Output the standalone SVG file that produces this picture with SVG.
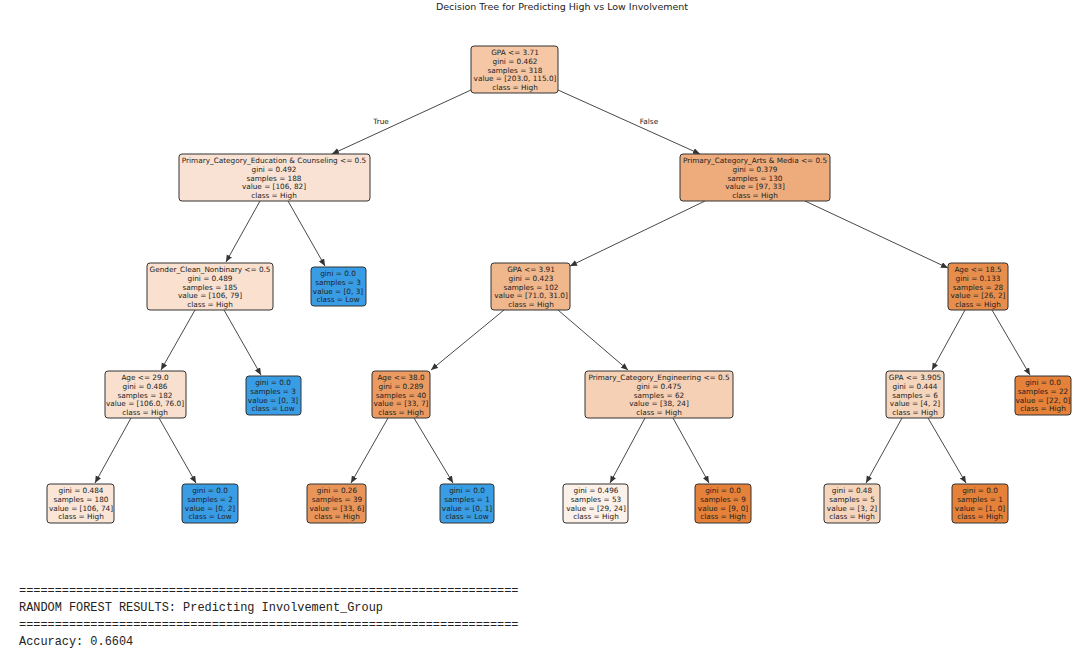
<svg xmlns="http://www.w3.org/2000/svg" width="1079" height="656" viewBox="0 0 1079 656">
<style>
text{font-family:"DejaVu Sans",sans-serif;font-size:7.3px;fill:#222;text-anchor:middle}
.b{stroke:#333;stroke-width:1}
.c line{stroke:#333;stroke-width:0.9;marker-end:url(#a)}
.m{font-family:"Liberation Mono",monospace;font-size:11.9px;text-anchor:start}
.t{font-size:9.5px}
</style>
<defs><marker id="a" markerWidth="8" markerHeight="8" refX="7" refY="3" orient="auto" markerUnits="userSpaceOnUse"><path d="M0,0 L7,3 L0,6 z" fill="#333"/></marker></defs>
<rect width="1079" height="656" fill="#fff"/>
<text class="t" x="562" y="10">Decision Tree for Predicting High vs Low Involvement</text>
<g class="c">
<line x1="471" y1="90" x2="332" y2="154"/>
<line x1="558" y1="90" x2="700" y2="154"/>
<line x1="260" y1="201" x2="226" y2="262"/>
<line x1="288" y1="201" x2="325" y2="266"/>
<line x1="705" y1="201" x2="570" y2="266"/>
<line x1="805" y1="201" x2="948" y2="268"/>
<line x1="195" y1="310" x2="161" y2="370"/>
<line x1="224" y1="310" x2="261" y2="375"/>
<line x1="504" y1="310" x2="431" y2="370"/>
<line x1="558" y1="310" x2="628" y2="370"/>
<line x1="965" y1="310" x2="932" y2="370"/>
<line x1="992" y1="310" x2="1030" y2="375"/>
<line x1="131" y1="418" x2="95" y2="483"/>
<line x1="159" y1="418" x2="196" y2="483"/>
<line x1="388" y1="418" x2="351" y2="483"/>
<line x1="414" y1="418" x2="453" y2="483"/>
<line x1="645" y1="418" x2="610" y2="483"/>
<line x1="673" y1="418" x2="709" y2="483"/>
<line x1="902" y1="418" x2="866" y2="483"/>
<line x1="928" y1="418" x2="966" y2="483"/>
</g>
<text x="381" y="124">True</text>
<text x="649" y="124">False</text>

<g id="n0"><rect class="b" x="471" y="46" width="87" height="47" rx="3" fill="#f6c7a5"/>
<text x="515" y="55">GPA &lt;= 3.71</text><text x="515" y="64">gini = 0.462</text><text x="515" y="72.5">samples = 318</text><text x="515" y="81">value = [203.0, 115.0]</text><text x="515" y="90">class = High</text></g>

<g id="n1"><rect class="b" x="179" y="154" width="191" height="47" rx="3" fill="#f9e2d3"/>
<text x="274" y="163">Primary_Category_Education &amp; Counseling &lt;= 0.5</text><text x="274" y="172">gini = 0.492</text><text x="274" y="180.5">samples = 188</text><text x="274" y="189">value = [106, 82]</text><text x="274" y="198">class = High</text></g>

<g id="n2"><rect class="b" x="680" y="154" width="150" height="47" rx="3" fill="#eeab7b"/>
<text x="755" y="163">Primary_Category_Arts &amp; Media &lt;= 0.5</text><text x="755" y="172">gini = 0.379</text><text x="755" y="180.5">samples = 130</text><text x="755" y="189">value = [97, 33]</text><text x="755" y="198">class = High</text></g>

<g id="n3"><rect class="b" x="147" y="263" width="126" height="47" rx="3" fill="#f9e0cf"/>
<text x="210" y="272">Gender_Clean_Nonbinary &lt;= 0.5</text><text x="210" y="281">gini = 0.489</text><text x="210" y="289.5">samples = 185</text><text x="210" y="298">value = [106, 79]</text><text x="210" y="307">class = High</text></g>

<g id="n4"><rect class="b" x="311" y="267" width="55" height="39" rx="3" fill="#399de5"/>
<text x="338" y="276">gini = 0.0</text><text x="338" y="285">samples = 3</text><text x="338" y="293.5">value = [0, 3]</text><text x="338" y="302">class = Low</text></g>

<g id="n5"><rect class="b" x="491" y="263" width="79" height="47" rx="3" fill="#f0b68c"/>
<text x="531" y="272">GPA &lt;= 3.91</text><text x="531" y="281">gini = 0.423</text><text x="531" y="289.5">samples = 102</text><text x="531" y="298">value = [71.0, 31.0]</text><text x="531" y="307">class = High</text></g>

<g id="n6"><rect class="b" x="948" y="263" width="60" height="47" rx="3" fill="#e88e4d"/>
<text x="978" y="272">Age &lt;= 18.5</text><text x="978" y="281">gini = 0.133</text><text x="978" y="289.5">samples = 28</text><text x="978" y="298">value = [26, 2]</text><text x="978" y="307">class = High</text></g>

<g id="n7"><rect class="b" x="105" y="371" width="81" height="47" rx="3" fill="#f9e0ce"/>
<text x="145" y="380">Age &lt;= 29.0</text><text x="145" y="389">gini = 0.486</text><text x="145" y="397.5">samples = 182</text><text x="145" y="406">value = [106.0, 76.0]</text><text x="145" y="415">class = High</text></g>

<g id="n8"><rect class="b" x="246" y="376" width="55" height="39" rx="3" fill="#399de5"/>
<text x="273" y="385">gini = 0.0</text><text x="273" y="394">samples = 3</text><text x="273" y="402.5">value = [0, 3]</text><text x="273" y="411">class = Low</text></g>

<g id="n9"><rect class="b" x="372" y="371" width="58" height="47" rx="3" fill="#eb9b61"/>
<text x="401" y="380">Age &lt;= 38.0</text><text x="401" y="389">gini = 0.289</text><text x="401" y="397.5">samples = 40</text><text x="401" y="406">value = [33, 7]</text><text x="401" y="415">class = High</text></g>

<g id="n10"><rect class="b" x="585" y="371" width="148" height="47" rx="3" fill="#f5d0b5"/>
<text x="659" y="380">Primary_Category_Engineering &lt;= 0.5</text><text x="659" y="389">gini = 0.475</text><text x="659" y="397.5">samples = 62</text><text x="659" y="406">value = [38, 24]</text><text x="659" y="415">class = High</text></g>

<g id="n11"><rect class="b" x="886" y="371" width="58" height="47" rx="3" fill="#f6d5bd"/>
<text x="915" y="380">GPA &lt;= 3.905</text><text x="915" y="389">gini = 0.444</text><text x="915" y="397.5">samples = 6</text><text x="915" y="406">value = [4, 2]</text><text x="915" y="415">class = High</text></g>

<g id="n12"><rect class="b" x="1015" y="376" width="56" height="39" rx="3" fill="#e58139"/>
<text x="1043" y="385">gini = 0.0</text><text x="1043" y="394">samples = 22</text><text x="1043" y="402.5">value = [22, 0]</text><text x="1043" y="411">class = High</text></g>

<g id="n13"><rect class="b" x="47" y="484" width="67" height="39" rx="3" fill="#fae5d7"/>
<text x="81" y="493">gini = 0.484</text><text x="81" y="502">samples = 180</text><text x="81" y="510.5">value = [106, 74]</text><text x="81" y="519">class = High</text></g>

<g id="n14"><rect class="b" x="182" y="484" width="56" height="39" rx="3" fill="#399de5"/>
<text x="210" y="493">gini = 0.0</text><text x="210" y="502">samples = 2</text><text x="210" y="510.5">value = [0, 2]</text><text x="210" y="519">class = Low</text></g>

<g id="n15"><rect class="b" x="307" y="484" width="59" height="39" rx="3" fill="#e99559"/>
<text x="337" y="493">gini = 0.26</text><text x="337" y="502">samples = 39</text><text x="337" y="510.5">value = [33, 6]</text><text x="337" y="519">class = High</text></g>

<g id="n16"><rect class="b" x="440" y="484" width="54" height="39" rx="3" fill="#399de5"/>
<text x="467" y="493">gini = 0.0</text><text x="467" y="502">samples = 1</text><text x="467" y="510.5">value = [0, 1]</text><text x="467" y="519">class = Low</text></g>

<g id="n17"><rect class="b" x="563" y="484" width="65" height="39" rx="3" fill="#fcf1e9"/>
<text x="596" y="493">gini = 0.496</text><text x="596" y="502">samples = 53</text><text x="596" y="510.5">value = [29, 24]</text><text x="596" y="519">class = High</text></g>

<g id="n18"><rect class="b" x="695" y="484" width="56" height="39" rx="3" fill="#e58139"/>
<text x="723" y="493">gini = 0.0</text><text x="723" y="502">samples = 9</text><text x="723" y="510.5">value = [9, 0]</text><text x="723" y="519">class = High</text></g>

<g id="n19"><rect class="b" x="824" y="484" width="56" height="39" rx="3" fill="#f6d5bd"/>
<text x="852" y="493">gini = 0.48</text><text x="852" y="502">samples = 5</text><text x="852" y="510.5">value = [3, 2]</text><text x="852" y="519">class = High</text></g>

<g id="n20"><rect class="b" x="952" y="484" width="56" height="39" rx="3" fill="#e58139"/>
<text x="980" y="493">gini = 0.0</text><text x="980" y="502">samples = 1</text><text x="980" y="510.5">value = [1, 0]</text><text x="980" y="519">class = High</text></g>

<text class="m" x="19" y="594">======================================================================</text>
<text class="m" x="19" y="611">RANDOM FOREST RESULTS: Predicting Involvement_Group</text>
<text class="m" x="19" y="628">======================================================================</text>
<text class="m" x="19" y="645">Accuracy: 0.6604</text>
</svg>
